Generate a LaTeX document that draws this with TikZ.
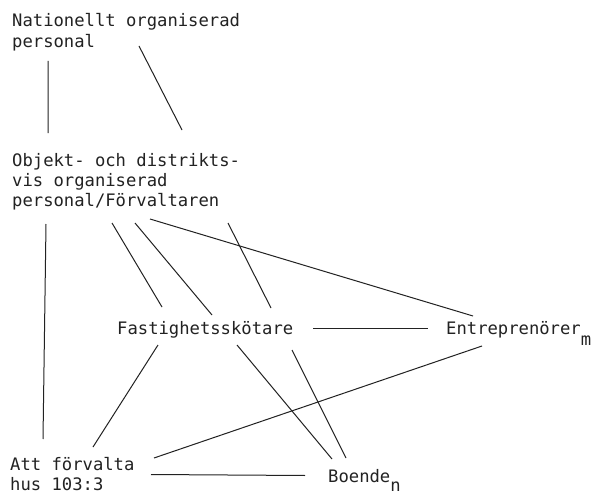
\documentclass[tikz,border=0pt]{standalone}
\usepackage{fontspec}
\setmainfont{DejaVu Sans Mono}
\definecolor{ink}{HTML}{222222}
\begin{document}
\begin{tikzpicture}[x=1pt, y=-1pt,
  lbl/.style={anchor=base west, inner sep=0pt, text=ink,
              font=\fontsize{17.2}{20.3}\selectfont},
  link/.style={draw=ink, line width=1pt}]
\useasboundingbox[fill=white] (0,0) rectangle (595,495);

% text blocks (position = baseline of the first line)
\node[lbl] (nat)    at (12,27)   {\vtop{\hbox{Nationellt organiserad}\hbox{personal}}};
\node[lbl] (obj)    at (12,166)  {\vtop{\hbox{Objekt- och distrikts-}\hbox{vis organiserad}\hbox{personal/Förvaltaren}}};
\node[lbl] (fast)   at (117,334) {Fastighetsskötare};
\node[lbl] (entr)   at (446,334) {Entreprenörer\raisebox{-11pt}{m}};
\node[lbl] (att)    at (10,470)  {\vtop{\hbox{Att förvalta}\hbox{hus 103:3}}};
\node[lbl] (boende) at (328,482) {Boende\raisebox{-9pt}{n}};

% end points of the connectors; long lines are broken where they cross text
\coordinate (nat-att-1) at (48,61);   \coordinate (nat-att-2) at (48,133);
\coordinate (nat-att-3) at (46,224);  \coordinate (nat-att-4) at (43,439);

\coordinate (nat-boe-1) at (139,46);  \coordinate (nat-boe-2) at (182,130);
\coordinate (nat-boe-3) at (228,223); \coordinate (nat-boe-4) at (271,308);
\coordinate (nat-boe-5) at (292,350); \coordinate (nat-boe-6) at (346,458);

\coordinate (obj-fast-1) at (112,223); \coordinate (obj-fast-2) at (162,307);

\coordinate (obj-boe-1) at (135,223); \coordinate (obj-boe-2) at (212,315);
\coordinate (obj-boe-3) at (237,345); \coordinate (obj-boe-4) at (332,459);

\coordinate (obj-entr-1) at (150,219); \coordinate (obj-entr-2) at (473,316);

\coordinate (fast-entr-1) at (313,328.5); \coordinate (fast-entr-2) at (428,328.5);

\coordinate (fast-att-1) at (158,345); \coordinate (fast-att-2) at (93,447);

\coordinate (entr-att-1) at (482,346); \coordinate (entr-att-2) at (154,458);

\coordinate (att-boe-1) at (151,474.5); \coordinate (att-boe-2) at (305,475.5);

% connectors
\draw[link] (nat-att-1) -- (nat-att-2) (nat-att-3) -- (nat-att-4);
\draw[link] (nat-boe-1) -- (nat-boe-2) (nat-boe-3) -- (nat-boe-4) (nat-boe-5) -- (nat-boe-6);
\draw[link] (obj-fast-1) -- (obj-fast-2);
\draw[link] (obj-boe-1) -- (obj-boe-2) (obj-boe-3) -- (obj-boe-4);
\draw[link] (obj-entr-1) -- (obj-entr-2);
\draw[link] (fast-entr-1) -- (fast-entr-2);
\draw[link] (fast-att-1) -- (fast-att-2);
\draw[link] (entr-att-1) -- (entr-att-2);
\draw[link] (att-boe-1) -- (att-boe-2);
\end{tikzpicture}
\end{document}
